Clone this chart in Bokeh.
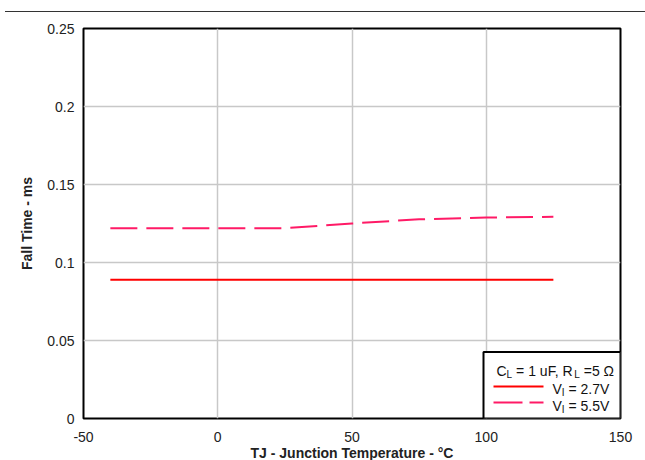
from bokeh.plotting import figure
from bokeh.models import FixedTicker, Label, BoxAnnotation, Arrow, Div, Range1d
from bokeh.layouts import column
from bokeh.embed import file_html
from bokeh.resources import INLINE

# ---- data ----
temps = [-40, -20, 0, 25, 50, 75, 100, 125]
fall_v27 = [0.089, 0.089, 0.089, 0.089, 0.089, 0.089, 0.089, 0.089]
fall_v55 = [0.122, 0.122, 0.122, 0.122, 0.125, 0.1277, 0.1288, 0.1293]
x_ticks = [-50, 0, 50, 100, 150]
x_tick_labels = ["-50", "0", "50", "100", "150"]
y_ticks = [0, 0.05, 0.1, 0.15, 0.2, 0.25]
y_tick_labels = ["0", "0.05", "0.1", "0.15", "0.2", "0.25"]

FONT = "Liberation Sans"
RED = "#ff0000"
PINK = "#ff1a66"

p = figure(frame_width=537, frame_height=390,
           x_range=Range1d(-50, 150), y_range=Range1d(0, 0.25),
           output_backend="svg", toolbar_location=None,
           min_border_left=83, min_border_right=17, min_border_top=11, min_border_bottom=0,
           background_fill_color="white", border_fill_color="white")
p.outline_line_color = "black"
p.outline_line_width = 2

for ax in (p.xaxis[0], p.yaxis[0]):
    ax.axis_line_color = None
    ax.major_tick_line_color = None
    ax.minor_tick_line_color = None
    ax.major_tick_out = 0
    ax.major_tick_in = 0
    ax.minor_tick_out = 0
    ax.minor_tick_in = 0
    ax.major_label_text_font = FONT
    ax.major_label_text_font_size = "14px"
    ax.major_label_text_color = "#222222"
    ax.axis_label_text_font = FONT
    ax.axis_label_text_font_size = "14px"
    ax.axis_label_text_font_style = "bold"
    ax.axis_label_text_color = "#222222"

p.xaxis.ticker = FixedTicker(ticks=x_ticks)
p.xaxis.major_label_overrides = {t: l for t, l in zip(x_ticks, x_tick_labels)}
p.yaxis.ticker = FixedTicker(ticks=y_ticks)
p.yaxis.major_label_overrides = {t: l for t, l in zip(y_ticks, y_tick_labels)}
p.xaxis.axis_label = "TJ - Junction Temperature - °C"
p.yaxis.axis_label = "Fall Time - ms"
p.xaxis.major_label_standoff = 13
p.xaxis.axis_label_standoff = 0
p.yaxis.major_label_standoff = 9
p.yaxis.axis_label_standoff = 9

p.grid.grid_line_color = "#c8c8c8"
p.grid.grid_line_width = 1.5

p.line(temps, fall_v27, line_color=RED, line_width=2)
p.line(temps, fall_v55, line_color=PINK, line_width=2, line_dash="27 9")

# ---- legend (screen units relative to frame) ----
p.add_layout(BoxAnnotation(left=400, right=537, bottom=0, top=66.5,
                           left_units="screen", right_units="screen",
                           bottom_units="screen", top_units="screen",
                           fill_color="white", fill_alpha=1.0,
                           line_color="black", line_width=2, line_alpha=1.0))

def lab(x, y, text, size):
    p.add_layout(Label(x=x, y=y, x_units="screen", y_units="screen", text=text,
                       text_font=FONT, text_font_size=size, text_color="#111111",
                       text_baseline="alphabetic", text_align="left"))

lab(413, 48, "C", "14px")
lab(423.1, 44, "L", "10px")
lab(432.6, 48, "= 1 uF, R", "14px")
lab(490.7, 44, "L", "10px")
lab(500.2, 48, "=5 Ω", "14px")

for base, txt in ((30, "= 2.7V"), (13, "= 5.5V")):
    lab(469, base, "V", "14px")
    lab(478.3, base - 4, "I", "10px")
    lab(485, base, txt, "14px")

p.add_layout(Arrow(end=None, x_start=410, y_start=32, x_end=460, y_end=32,
                   start_units="screen", end_units="screen",
                   line_color=RED, line_width=2))
p.add_layout(Arrow(end=None, x_start=410, y_start=16, x_end=460, y_end=16,
                   start_units="screen", end_units="screen",
                   line_color=PINK, line_width=2, line_dash="29 7"))

top_rule = Div(text="", width=645, height=7,
               styles={"border-bottom": "1px solid #333333", "box-sizing": "border-box"})

layout = column(top_rule, p, spacing=0)

open("out.html", "w").write(file_html(layout, INLINE))
